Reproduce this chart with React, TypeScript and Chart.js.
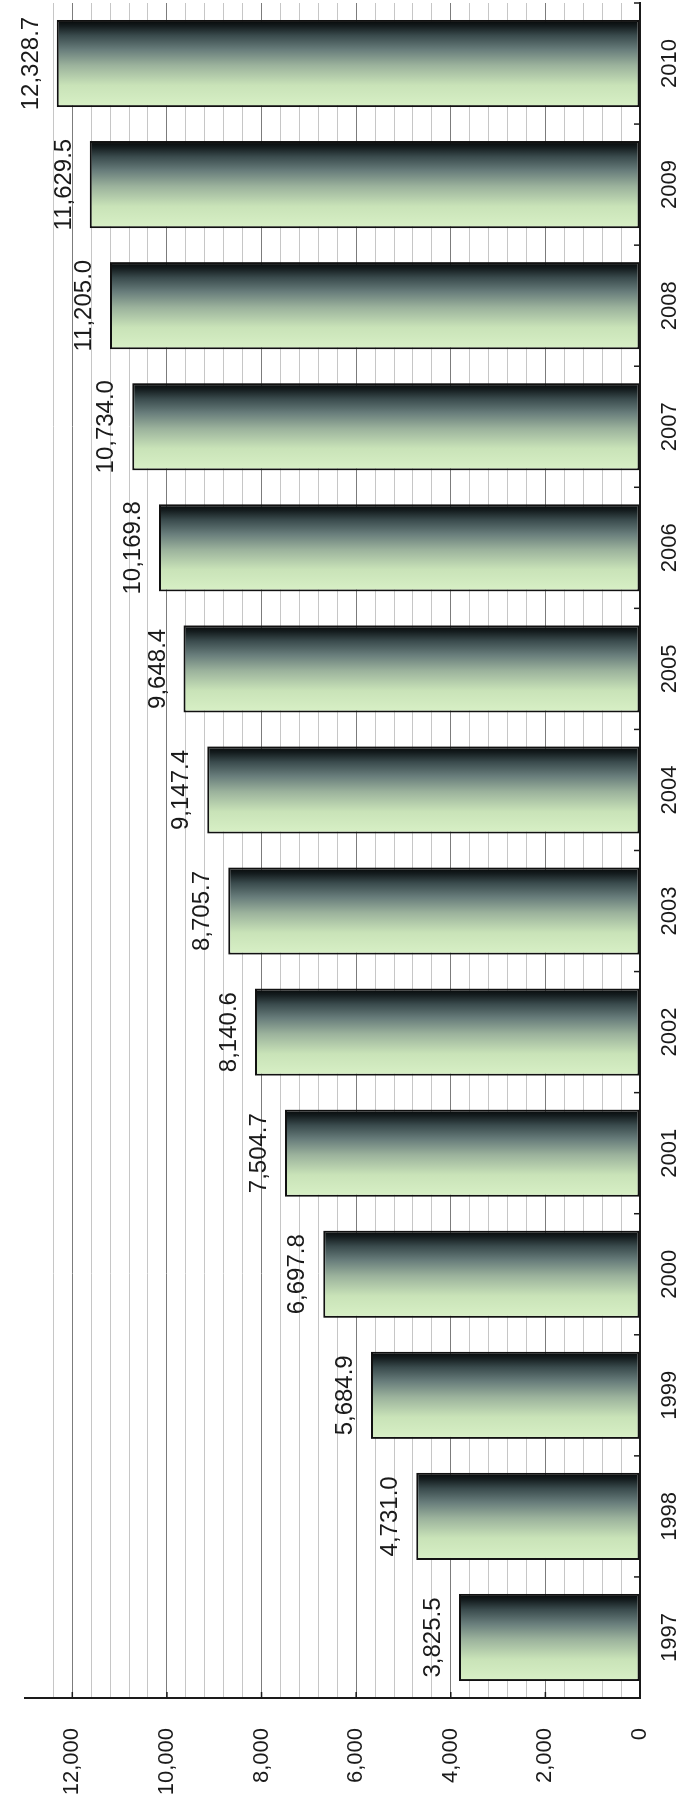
import React, { useEffect, useRef } from "react";
import { Chart, registerables } from "chart.js";

Chart.register(...registerables);

const years = ["1997", "1998", "1999", "2000", "2001", "2002", "2003", "2004", "2005", "2006", "2007", "2008", "2009", "2010"];
const values = [3825.5, 4731.0, 5684.9, 6697.8, 7504.7, 8140.6, 8705.7, 9147.4, 9648.4, 10169.8, 10734.0, 11205.0, 11629.5, 12328.7];
const yMax = 13000;
const gridStep = 400;
const labelStep = 2000;
const labelMax = 12000;

const FONT = '"Liberation Sans", Arial, Helvetica, sans-serif';
const BAR_FRAC = 0.72;

const fmt = (v: number) =>
  v.toLocaleString("en-US", { minimumFractionDigits: 1, maximumFractionDigits: 1 });

const overlayPlugin = {
  id: "overlay",
  afterDatasetsDraw(chart: any) {
    const ctx = chart.ctx;
    const meta = chart.getDatasetMeta(0);
    const xs = chart.scales.x;
    const ys = chart.scales.y;
    const area = chart.chartArea;
    ctx.save();
    ctx.font = `24px ${FONT}`;
    ctx.fillStyle = "#1a1a1a";
    ctx.textAlign = "center";
    ctx.textBaseline = "alphabetic";
    meta.data.forEach((bar: any, i: number) => {
      ctx.fillText(fmt(values[i]), bar.x, bar.y - 19);
    });
    ctx.strokeStyle = "#1a1a1a";
    ctx.lineWidth = 1.5;
    const n = years.length;
    const catW = (xs.right - xs.left) / n;
    for (let i = 1; i <= n; i++) {
      const px = xs.getPixelForValue(i - 1) + catW / 2;
      ctx.beginPath();
      ctx.moveTo(px, area.bottom);
      ctx.lineTo(px, area.bottom - 6);
      ctx.stroke();
    }
    for (let v = labelStep; v <= labelMax; v += labelStep) {
      const py = ys.getPixelForValue(v);
      ctx.beginPath();
      ctx.moveTo(area.left, py);
      ctx.lineTo(area.left + 6, py);
      ctx.stroke();
    }
    ctx.restore();
  },
};

export default function App() {
  const ref = useRef<HTMLCanvasElement | null>(null);

  useEffect(() => {
    if (!ref.current) return;
    const chart = new Chart(ref.current, {
      type: "bar",
      data: {
        labels: years,
        datasets: [
          {
            data: values,
            backgroundColor: (c: any) => {
              const ch = c.chart;
              const xs = ch.scales && ch.scales.x;
              if (!xs || c.dataIndex === undefined) return "#8ea592";
              const cx = xs.getPixelForValue(c.dataIndex);
              const half = ((xs.right - xs.left) / years.length) * BAR_FRAC / 2;
              if (!isFinite(cx) || !isFinite(half) || half <= 0) return "#8ea592";
              const g = ch.ctx.createLinearGradient(cx - half, 0, cx + half, 0);
              g.addColorStop(0, "#d8f0c6");
              g.addColorStop(0.25, "#c9e3b8");
              g.addColorStop(0.48, "#9bb29c");
              g.addColorStop(0.66, "#687d7b");
              g.addColorStop(0.82, "#3a4b4d");
              g.addColorStop(0.93, "#141c1e");
              g.addColorStop(1, "#050707");
              return g;
            },
            borderColor: "#111111",
            borderWidth: 2,
            borderSkipped: false,
            barPercentage: BAR_FRAC,
            categoryPercentage: 1,
          },
        ],
      },
      options: {
        responsive: false,
        animation: false,
        devicePixelRatio: 1,
        layout: { padding: { top: 25, right: 3, left: 0, bottom: 0 } },
        plugins: {
          legend: { display: false },
          tooltip: { enabled: false },
          title: { display: false },
        },
        scales: {
          x: {
            type: "category",
            grid: { display: false, drawTicks: false },
            border: { display: true, color: "#1a1a1a", width: 2 },
            ticks: {
              color: "#1a1a1a",
              font: { family: FONT, size: 22 },
              padding: 17,
              maxRotation: 0,
              minRotation: 0,
              autoSkip: false,
            },
            afterFit: (s: any) => {
              s.height = 39;
              s.paddingLeft = 0;
              s.paddingRight = 0;
              s.paddingTop = 0;
              s.paddingBottom = 0;
            },
          },
          y: {
            type: "linear",
            min: 0,
            max: yMax,
            grid: {
              drawTicks: false,
              color: (c: any) => (c.tick && c.tick.value % labelStep === 0 ? "#7c7c7c" : "#c6c6c6"),
              lineWidth: 1,
            },
            border: { display: true, color: "#1a1a1a", width: 2 },
            ticks: {
              stepSize: gridStep,
              autoSkip: false,
              padding: 30,
              color: "#1a1a1a",
              font: { family: FONT, size: 22 },
              callback: (v: any) =>
                Number(v) % labelStep === 0 && Number(v) <= labelMax ? Number(v).toLocaleString("en-US") : "",
            },
            afterBuildTicks: (s: any) => {
              s.ticks = s.ticks.filter((t: any) => t.value % gridStep === 0 && t.value < yMax);
            },
            afterFit: (s: any) => {
              s.width = 103;
              s.paddingLeft = 0;
              s.paddingRight = 0;
              s.paddingTop = 0;
              s.paddingBottom = 0;
            },
          },
        },
      },
      plugins: [overlayPlugin],
    } as any);
    return () => chart.destroy();
  }, []);

  return (
    <div
      style={{
        position: "fixed",
        left: 0,
        top: 0,
        width: 679,
        height: 1801,
        overflow: "hidden",
        background: "#ffffff",
      }}
    >
      <canvas
        ref={ref}
        width={1801}
        height={679}
        style={{
          position: "absolute",
          left: 0,
          top: 0,
          width: 1801,
          height: 679,
          transformOrigin: "0 0",
          transform: "translate(0px, 1801px) rotate(-90deg)",
        }}
      />
    </div>
  );
}
